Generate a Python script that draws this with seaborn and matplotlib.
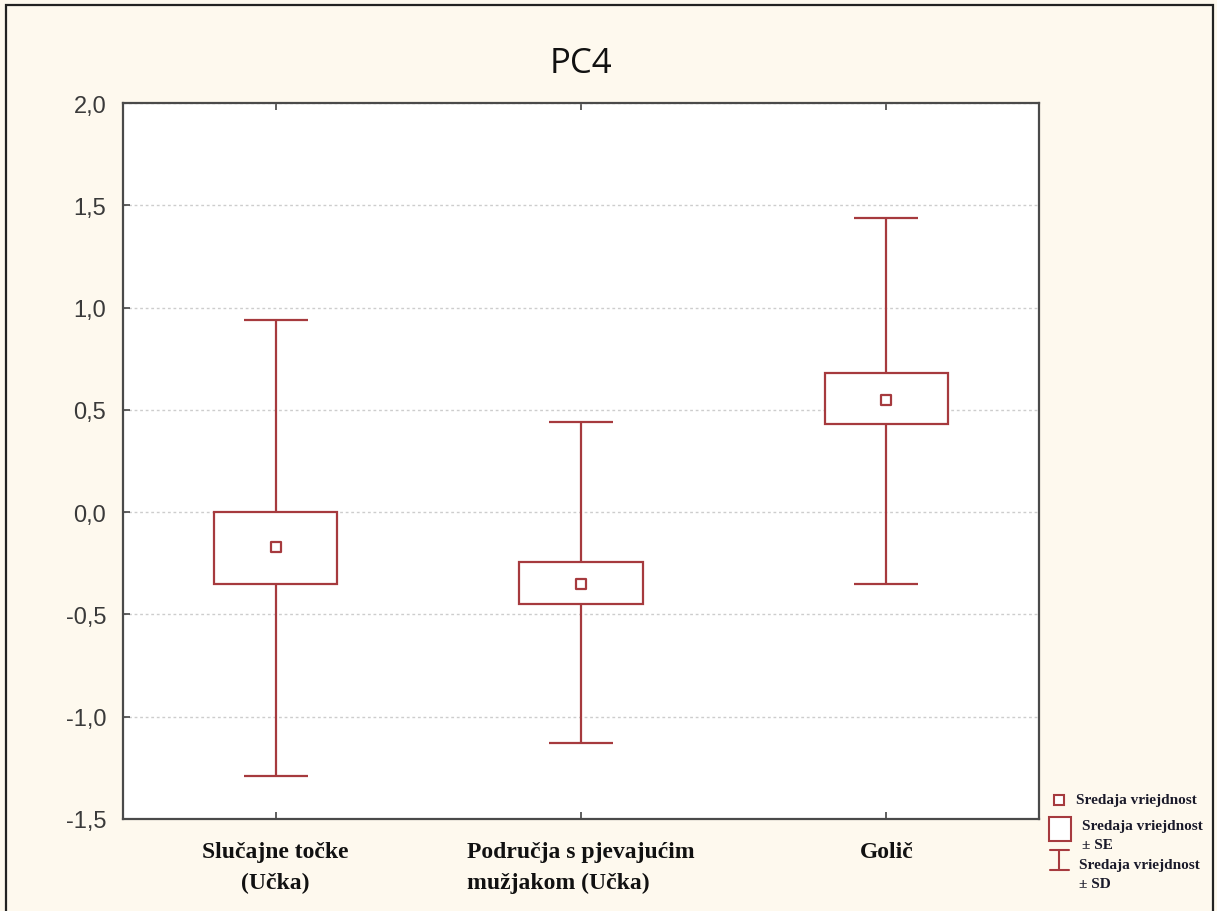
import matplotlib
matplotlib.use("Agg")
import matplotlib.pyplot as plt
from matplotlib.patches import Rectangle
from matplotlib.lines import Line2D
from matplotlib.ticker import FuncFormatter
import seaborn as sns
import pandas as pd

# ---- data ----
categories = ["Slučajne točke\n(Učka)", "Područja s pjevajućim\nmužjakom (Učka)", "Golič"]
means = [-0.17, -0.35, 0.55]
se_low = [-0.35, -0.45, 0.43]
se_high = [0.0, -0.245, 0.68]
sd_low = [-1.29, -1.13, -0.35]
sd_high = [0.94, 0.44, 1.44]
y_ticks = [-1.5, -1.0, -0.5, 0.0, 0.5, 1.0, 1.5, 2.0]
title = "PC4"
legend_labels = ["Sredaja vriejdnost", "Sredaja vriejdnost\n± SE", "Sredaja vriejdnost\n± SD"]

RED = "#A63A3E"
BG = "#FEF9EE"

sns.set_theme(style="white")
plt.rcParams["font.family"] = ["Liberation Sans", "DejaVu Sans"]

fig = plt.figure(figsize=(12.17, 9.12), dpi=100, facecolor=BG)
ax = fig.add_axes([123 / 1217, 1 - 820 / 912, (1039 - 123) / 1217, (820 - 104) / 912])
ax.set_facecolor("white")

df = pd.DataFrame({"group": categories, "mean": means})
xpos = list(range(len(categories)))

box_w = 0.405
cap_w = 0.21
for i in xpos:
    # whiskers (SD)
    ax.vlines(i, se_high[i], sd_high[i], color=RED, lw=1.6, zorder=3)
    ax.vlines(i, sd_low[i], se_low[i], color=RED, lw=1.6, zorder=3)
    ax.hlines([sd_low[i], sd_high[i]], i - cap_w / 2, i + cap_w / 2, color=RED, lw=1.6, zorder=3)
    # SE box
    ax.add_patch(Rectangle((i - box_w / 2, se_low[i]), box_w, se_high[i] - se_low[i],
                           facecolor="white", edgecolor=RED, lw=1.6, zorder=3))

sns.scatterplot(data=df, x="group", y="mean", marker="s", s=55, facecolor="white",
                edgecolor=RED, linewidth=1.6, zorder=4, ax=ax, legend=False)

ax.set_xlim(-0.5, 2.5)
ax.set_ylim(-1.5, 2.0)
ax.set_yticks(y_ticks)
ax.yaxis.set_major_formatter(FuncFormatter(lambda v, p: f"{v:.1f}".replace(".", ",")))
ax.set_xticks(xpos)
ax.set_xticklabels(categories, fontfamily="Liberation Serif", fontweight="bold",
                   fontsize=17, color="#111111", linespacing=1.6)
labels = ax.get_xticklabels()
labels[1].set_multialignment("left")
ax.set_xlabel("")
ax.set_ylabel("")
ax.grid(axis="y", color="#CDCDCD", linestyle=(0, (2, 2)), linewidth=1.0, zorder=0)
ax.set_axisbelow(True)
ax.tick_params(axis="y", direction="in", length=5, width=1.2, color="#444444",
               labelsize=17, labelcolor="#3A3A3A", pad=12, left=True)
ax.tick_params(axis="x", direction="in", length=5, width=1.2, color="#444444",
               pad=16, bottom=True, top=True)
for s in ax.spines.values():
    s.set_color("#4A4A4A")
    s.set_linewidth(1.6)

ax.set_title(title, fontsize=25, color="#111111", pad=22,
             fontfamily=["Open Sans", "DejaVu Sans"])

# ---- legend (drawn in figure pixels) ----
def fx(px):
    return px / 1217

def fy(py):
    return 1 - py / 912

fig.add_artist(Line2D([fx(1059)], [fy(801)], marker="s", markersize=6.5, markerfacecolor="white",
                      markeredgecolor=RED, markeredgewidth=1.5, transform=fig.transFigure))
fig.add_artist(Rectangle((fx(1049), fy(842)), fx(22), 24 / 912, facecolor="white",
                         edgecolor=RED, lw=1.5, transform=fig.transFigure))
fig.add_artist(Line2D([fx(1059), fx(1059)], [fy(851), fy(871)], color=RED, lw=1.5,
                      transform=fig.transFigure))
fig.add_artist(Line2D([fx(1050), fx(1069)], [fy(851), fy(851)], color=RED, lw=1.5,
                      transform=fig.transFigure))
fig.add_artist(Line2D([fx(1050), fx(1069)], [fy(871), fy(871)], color=RED, lw=1.5,
                      transform=fig.transFigure))

lg_kw = dict(fontfamily="Liberation Serif", fontweight="bold", fontsize=11,
             color="#1A1A2A", va="center", ha="left")
fig.text(fx(1076), fy(801), legend_labels[0], **lg_kw)
fig.text(fx(1082), fy(836), legend_labels[1], linespacing=1.55, **lg_kw)
fig.text(fx(1079), fy(875), legend_labels[2], linespacing=1.55, **lg_kw)

# outer frame
fig.add_artist(Rectangle((fx(6), -0.05), fx(1207), 1.05 - 6 / 912, facecolor="none",
                         edgecolor="#222222", lw=1.6, transform=fig.transFigure))

fig.savefig("out.png", dpi=100, facecolor=BG)
